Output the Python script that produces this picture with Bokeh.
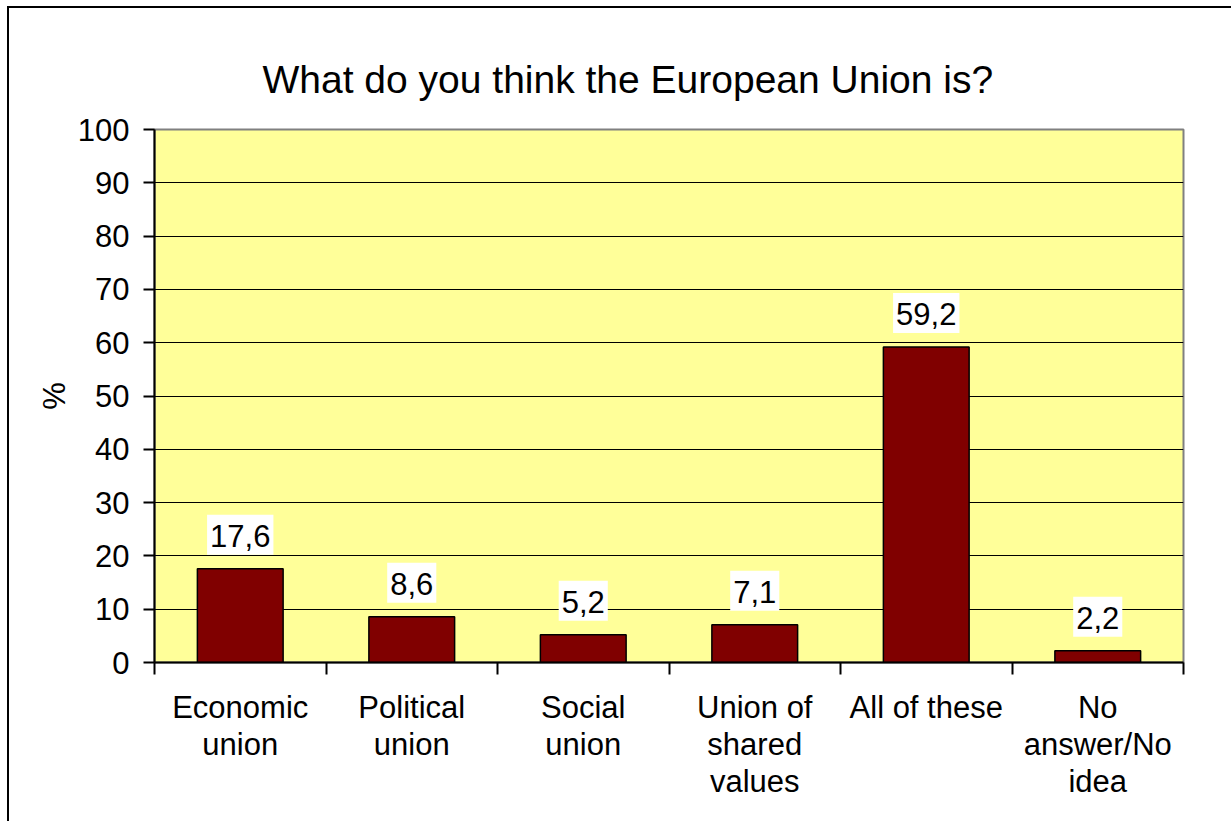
from bokeh.plotting import figure
from bokeh.models import (ColumnDataSource, Range1d, FixedTicker, InlineStyleSheet)
from bokeh.core.properties import value
from bokeh.embed import file_html
from bokeh.resources import INLINE

categories = ["Economic\nunion", "Political\nunion", "Social\nunion",
              "Union of\nshared\nvalues", "All of these", "No\nanswer/No\nidea"]
values = [17.6, 8.6, 5.2, 7.1, 59.2, 2.2]
y_ticks = [0, 10, 20, 30, 40, 50, 60, 70, 80, 90, 100]

FONT = "Liberation Sans"
FS = "31px"
n = len(categories)
xs = [i + 0.5 for i in range(n)]
labels = [f"{v:.1f}".replace(".", ",") for v in values]
src = ColumnDataSource(dict(x=xs, top=values, label=labels))

p = figure(width=1231, height=821, output_backend="svg", toolbar_location=None,
           x_range=Range1d(0, n), y_range=Range1d(0, 100),
           min_border_left=154, min_border_right=48,
           min_border_top=129, min_border_bottom=159)

p.title.text = "What do you think the European Union is?"
p.title.align = "left"
p.title.text_font = FONT
p.title.text_font_size = "39px"
p.title.text_font_style = "normal"
p.title.text_color = "black"
p.title.offset = 108
p.title.standoff = 57

p.border_fill_color = "white"
p.background_fill_color = "#FFFF99"
p.outline_line_color = "#808080"
p.outline_line_width = 2

p.vbar(x="x", top="top", width=0.5, source=src, fill_color="#800000",
       line_color="black", line_width=1.5)

p.text(x="x", y="top", text="label", source=src,
       y_offset=-14, text_align="center", text_baseline="bottom",
       text_font=value(FONT), text_font_size=FS, text_color="black",
       background_fill_color="white",
       padding=dict(left=3, right=3, top=10, bottom=8))

# y axis
p.yaxis.ticker = FixedTicker(ticks=y_ticks)
p.yaxis.axis_label = "%"
p.yaxis.axis_label_text_font = FONT
p.yaxis.axis_label_text_font_size = FS
p.yaxis.axis_label_text_font_style = "normal"
p.yaxis.axis_label_text_color = "black"
p.yaxis.axis_label_standoff = 3
p.yaxis.major_label_text_font = FONT
p.yaxis.major_label_text_font_size = FS
p.yaxis.major_label_text_color = "black"
p.yaxis.major_label_standoff = 14
p.yaxis.major_tick_out = 11
p.yaxis.major_tick_in = 0
p.yaxis.minor_tick_line_color = None
p.yaxis.axis_line_width = 2
p.yaxis.major_tick_line_width = 2

# x axis: labels at centers, tick marks at boundaries (minor ticks)
p.xaxis.ticker = FixedTicker(ticks=xs, minor_ticks=list(range(n + 1)))
p.xaxis.major_label_overrides = {x: c for x, c in zip(xs, categories)}
p.xaxis.major_label_text_font = FONT
p.xaxis.major_label_text_font_size = FS
p.xaxis.major_label_text_color = "black"
p.xaxis.major_label_text_line_height = 1.07
p.xaxis.major_label_standoff = 15
p.xaxis.major_tick_line_color = None
p.xaxis.major_tick_out = 0
p.xaxis.major_tick_in = 0
p.xaxis.minor_tick_out = 12
p.xaxis.minor_tick_in = 0
p.xaxis.minor_tick_line_width = 2
p.xaxis.axis_line_width = 2

p.xgrid.grid_line_color = None
p.ygrid.ticker = FixedTicker(ticks=y_ticks)
p.ygrid.grid_line_color = "black"
p.ygrid.grid_line_width = 1

p.stylesheets = [InlineStyleSheet(css=":host::after { content: ''; position: absolute; left: 7px; top: 6px; width: 1300px; height: 900px; border-left: 2px solid black; border-top: 2px solid black; pointer-events: none; }")]

open("out.html", "w").write(file_html(p, INLINE))
